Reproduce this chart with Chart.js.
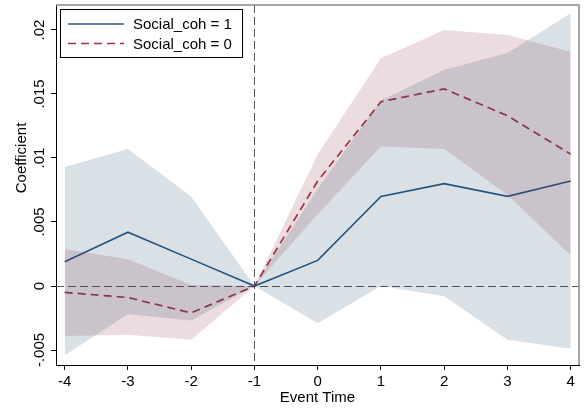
<!DOCTYPE html>
<html lang="en">
<head>
    <meta charset="UTF-8">
    <title>Event study: Social_coh</title>
    <script src="https://cdn.jsdelivr.net/npm/chart.js"></script>
    <style>
        html, body { margin: 0; padding: 0; background: #fff; }
        #wrap { width: 584px; height: 412px; }
    </style>
</head>
<body>
<div id="wrap"><canvas id="esChart" width="584" height="412"></canvas></div>
<script>
    // Event time and estimates with 95% bands
    const eventTime = [-4, -3, -2, -1, 0, 1, 2, 3, 4];

    const coefSoc1 = [0.0019, 0.0042, 0.0021, 0, 0.0020, 0.0070, 0.0080, 0.0070, 0.0082];
    const lowSoc1  = [-0.0054, -0.0022, -0.0027, 0, -0.0029, 0.0000, -0.0008, -0.0042, -0.0049];
    const highSoc1 = [0.0093, 0.0107, 0.0070, 0, 0.0076, 0.0145, 0.0169, 0.0182, 0.0213];

    const coefSoc0 = [-0.0005, -0.0009, -0.0021, 0, 0.0082, 0.0144, 0.0154, 0.0133, 0.0103];
    const lowSoc0  = [-0.0039, -0.0038, -0.0042, 0, 0.0056, 0.0109, 0.0107, 0.0071, 0.0024];
    const highSoc0 = [0.0029, 0.0021, 0.0001, 0, 0.0103, 0.0178, 0.0200, 0.0196, 0.0183];

    const xTicks = [-4, -3, -2, -1, 0, 1, 2, 3, 4];
    const yTicks = [-0.005, 0, 0.005, 0.01, 0.015, 0.02];
    const yTickLabels = ['-.005', '0', '.005', '.01', '.015', '.02'];

    const FONT = 'Liberation Sans, Arial, sans-serif';
    const NAVY = '#275782';
    const MAROON = '#a03542';

    const pts = (ys) => eventTime.map((x, i) => ({ x: x, y: ys[i] }));

    function band(ys, color, fill) {
        return {
            data: pts(ys),
            borderWidth: 0,
            pointRadius: 0,
            backgroundColor: color,
            fill: fill,
            isBand: true
        };
    }

    // y tick labels are rotated (Chart.js won't rotate them on a vertical axis),
    // reference lines, plot frame and the boxed legend
    const decorPlugin = {
        id: 'decor',
        beforeDatasetsDraw(chart) {
            const { ctx, chartArea: a, scales } = chart;
            ctx.save();
            ctx.strokeStyle = '#555';
            ctx.lineWidth = 1;
            ctx.setLineDash([8, 4]);
            const x0 = Math.round(scales.x.getPixelForValue(-1)) + 0.5;
            ctx.beginPath();
            ctx.moveTo(x0, a.top);
            ctx.lineTo(x0, a.bottom);
            ctx.stroke();
            const y0 = Math.round(scales.y.getPixelForValue(0)) + 0.5;
            ctx.beginPath();
            ctx.moveTo(a.left, y0);
            ctx.lineTo(a.right, y0);
            ctx.stroke();
            ctx.restore();
        },
        afterDraw(chart) {
            const { ctx, chartArea: a, scales } = chart;
            ctx.save();

            // frame on top and right
            ctx.strokeStyle = '#8c8c8c';
            ctx.lineWidth = 1.5;
            ctx.beginPath();
            ctx.moveTo(a.left, a.top);
            ctx.lineTo(a.right, a.top);
            ctx.lineTo(a.right, a.bottom);
            ctx.stroke();

            // rotated y tick labels
            ctx.fillStyle = '#000';
            ctx.font = '15px ' + FONT;
            ctx.textAlign = 'center';
            ctx.textBaseline = 'alphabetic';
            yTicks.forEach((v, i) => {
                const py = scales.y.getPixelForValue(v);
                ctx.save();
                ctx.translate(44, py);
                ctx.rotate(-Math.PI / 2);
                ctx.fillText(yTickLabels[i], 0, 0);
                ctx.restore();
            });

            // y title
            ctx.save();
            ctx.translate(26, 158);
            ctx.rotate(-Math.PI / 2);
            ctx.fillText('Coefficient', 0, 0);
            ctx.restore();

            // legend
            const lx = 60.5, ly = 9.5, lw = 182, lh = 48;
            ctx.fillStyle = '#fff';
            ctx.fillRect(lx, ly, lw, lh);
            ctx.strokeStyle = '#000';
            ctx.lineWidth = 1;
            ctx.strokeRect(lx, ly, lw, lh);
            const items = chart.data.datasets.filter(d => !d.isBand);
            items.forEach((d, i) => {
                const cy = 24 + i * 19.5;
                ctx.strokeStyle = d.borderColor;
                ctx.lineWidth = d.borderWidth;
                ctx.setLineDash(d.borderDash || []);
                ctx.beginPath();
                ctx.moveTo(68, cy);
                ctx.lineTo(124, cy);
                ctx.stroke();
                ctx.setLineDash([]);
                ctx.fillStyle = '#000';
                ctx.textAlign = 'left';
                ctx.textBaseline = 'middle';
                ctx.fillText(d.label, 133, cy + 1);
            });
            ctx.restore();
        }
    };

    new Chart(document.getElementById('esChart'), {
        type: 'line',
        data: {
            datasets: [
                band(highSoc1, 'rgba(26, 71, 111, 0.165)', false),
                band(lowSoc1, 'rgba(26, 71, 111, 0.165)', '-1'),
                band(highSoc0, 'rgba(144, 45, 62, 0.165)', false),
                band(lowSoc0, 'rgba(144, 45, 62, 0.165)', '-1'),
                {
                    label: 'Social_coh = 1',
                    data: pts(coefSoc1),
                    borderColor: NAVY,
                    borderWidth: 1.6,
                    pointRadius: 0,
                    fill: false
                },
                {
                    label: 'Social_coh = 0',
                    data: pts(coefSoc0),
                    borderColor: MAROON,
                    borderWidth: 1.7,
                    borderDash: [8, 5],
                    pointRadius: 0,
                    fill: false
                }
            ]
        },
        options: {
            responsive: false,
            animation: false,
            layout: { padding: { top: 5, right: 5, left: 0, bottom: 0 } },
            plugins: {
                legend: { display: false },
                tooltip: { enabled: false }
            },
            scales: {
                x: {
                    type: 'linear',
                    min: -4.1375,
                    max: 4.131,
                    afterBuildTicks: (s) => { s.ticks = xTicks.map(v => ({ value: v })); },
                    afterFit: (s) => { s.height = 47; },
                    grid: { drawOnChartArea: false, drawTicks: true, tickLength: 5, color: '#000' },
                    border: { color: '#000', width: 1 },
                    ticks: {
                        color: '#000',
                        padding: 3,
                        maxRotation: 0,
                        font: { family: FONT, size: 15 },
                        callback: (v) => String(v)
                    },
                    title: {
                        display: true,
                        text: 'Event Time',
                        color: '#000',
                        font: { family: FONT, size: 15 },
                        padding: { top: 0, bottom: 5 }
                    }
                },
                y: {
                    type: 'linear',
                    min: -0.00617,
                    max: 0.02195,
                    afterBuildTicks: (s) => { s.ticks = yTicks.map(v => ({ value: v })); },
                    afterFit: (s) => { s.width = 56; },
                    grid: { drawOnChartArea: false, drawTicks: true, tickLength: 5, color: '#000' },
                    border: { color: '#000', width: 1 },
                    ticks: { display: false }
                }
            }
        },
        plugins: [decorPlugin]
    });
</script>
</body>
</html>
